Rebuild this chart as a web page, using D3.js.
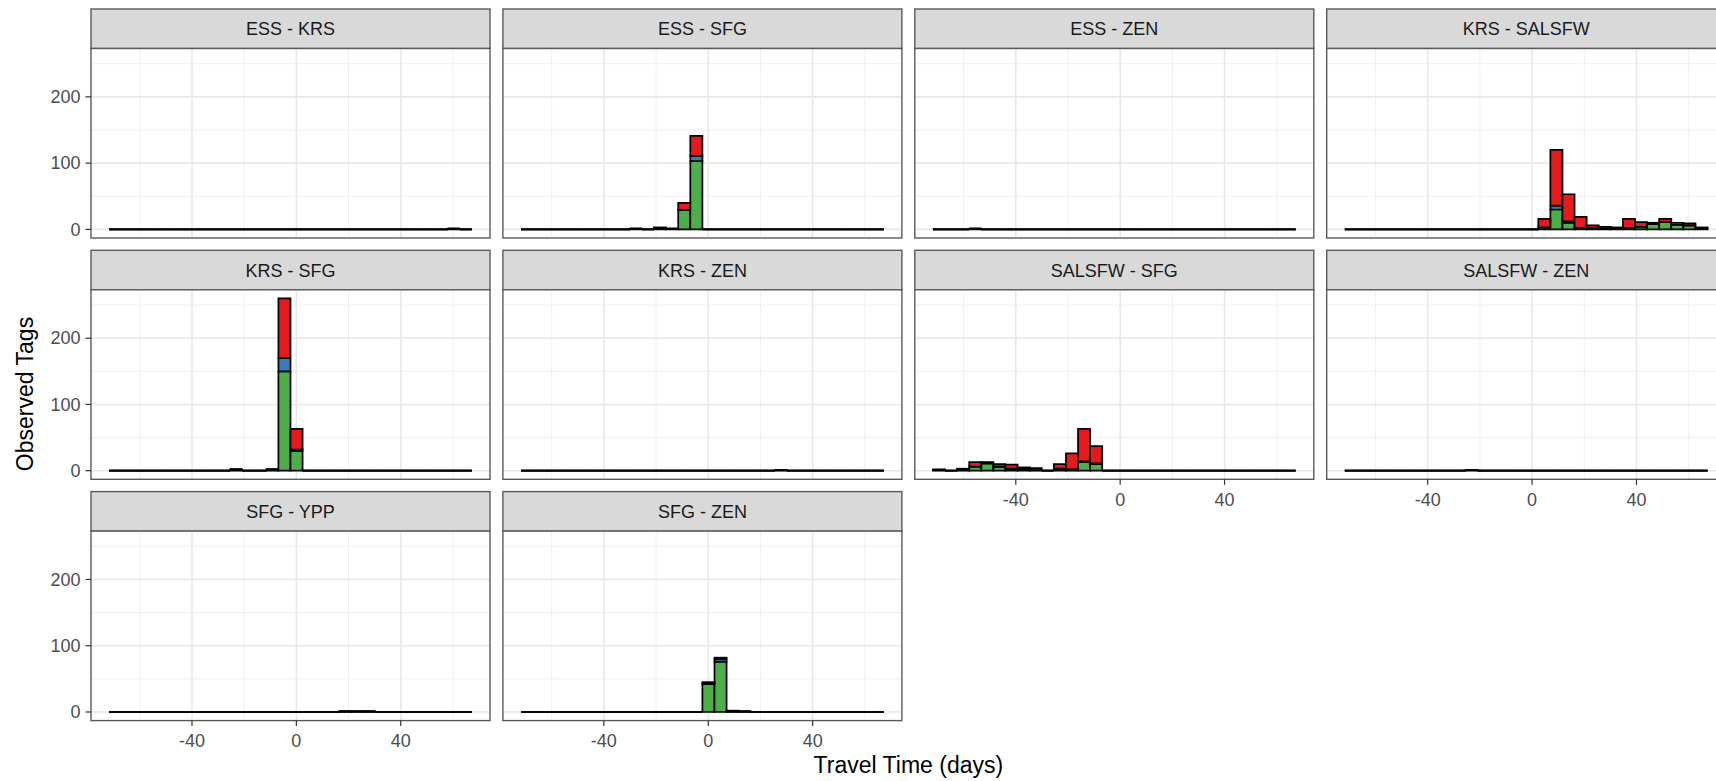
<!DOCTYPE html>
<html>
<head>
<meta charset="utf-8">
<script src="https://cdn.jsdelivr.net/npm/d3@7"></script>
<style>
  body { margin: 0; background: #fff; }
  text { font-family: "Liberation Sans", Arial, sans-serif; }
</style>
</head>
<body>
<div id="chart"></div>
<script>
const width = 1716;
const height = 781;

// facet panels, in facet_wrap order
const panels = [
  "ESS - KRS", "ESS - SFG", "ESS - ZEN", "KRS - SALSFW",
  "KRS - SFG", "KRS - ZEN", "SALSFW - SFG", "SALSFW - ZEN",
  "SFG - YPP", "SFG - ZEN"
];

// histogram bins (30 bins shared by every panel)
const nBins = 30;
const binStart = -71.75;
const binEnd = 67.25;

const xTicks = [-40, 0, 40];
const xMinor = [-60, -20, 20, 60];
const yTicks = [0, 100, 200];
const yMinor = [50, 150, 250];

const seriesKeys = ["green", "blue", "red"];
const seriesColors = { green: "#4DAF4A", blue: "#377EB8", red: "#E41A1C" };

// counts per panel per bin
const greenCounts = [
  [0,0,0,0,0,0,0,0,0,0, 0,0,0,0,0,0,0,0,0,0, 0,0,0,0,0,0,0,0,1,0],
  [0,0,0,0,0,0,0,0,0,1, 0,2,1,29,103,0,0,0,0,0, 0,0,0,0,0,0,0,0,0,0],
  [0,0,0,1,0,0,0,0,0,0, 0,0,0,0,0,0,0,0,0,0, 0,0,0,0,0,0,0,0,0,0],
  [0,0,0,0,0,0,0,0,0,0, 0,0,0,0,0,0,3,30,10,2, 2,1,2,2,4,8,11,7,6,1],
  [0,0,0,0,0,0,0,0,0,0, 2,0,0,2,150,30,0,0,0,0, 0,0,0,0,0,0,0,0,0,0],
  [0,0,0,0,0,0,0,0,0,0, 0,0,0,0,0,0,0,0,0,0, 0,1,0,0,0,0,0,0,0,0],
  [1,0,2,6,11,6,3,3,1,0, 3,2,13,10,0,0,0,0,0,0, 0,0,0,0,0,0,0,0,0,0],
  [0,0,0,0,0,0,0,0,0,0, 1,0,0,0,0,0,0,0,0,0, 0,0,0,0,0,0,0,0,0,0],
  [0,0,0,0,0,0,0,0,0,0, 0,0,0,0,0,0,0,0,0,1, 1,1,0,0,0,0,0,0,0,0],
  [0,0,0,0,0,0,0,0,0,0, 0,0,0,0,0,42,76,1,1,0, 0,0,0,0,0,0,0,0,0,0]
];

const blueCounts = [
  [0,0,0,0,0,0,0,0,0,0, 0,0,0,0,0,0,0,0,0,0, 0,0,0,0,0,0,0,0,0,0],
  [0,0,0,0,0,0,0,0,0,0, 0,0,0,0,8,0,0,0,0,0, 0,0,0,0,0,0,0,0,0,0],
  [0,0,0,0,0,0,0,0,0,0, 0,0,0,0,0,0,0,0,0,0, 0,0,0,0,0,0,0,0,0,0],
  [0,0,0,0,0,0,0,0,0,0, 0,0,0,0,0,0,0,6,2,0, 0,0,0,0,0,0,0,0,0,0],
  [0,0,0,0,0,0,0,0,0,0, 0,0,0,0,20,2,0,0,0,0, 0,0,0,0,0,0,0,0,0,0],
  [0,0,0,0,0,0,0,0,0,0, 0,0,0,0,0,0,0,0,0,0, 0,0,0,0,0,0,0,0,0,0],
  [0,0,0,0,0,0,0,0,0,0, 0,0,1,1,0,0,0,0,0,0, 0,0,0,0,0,0,0,0,0,0],
  [0,0,0,0,0,0,0,0,0,0, 0,0,0,0,0,0,0,0,0,0, 0,0,0,0,0,0,0,0,0,0],
  [0,0,0,0,0,0,0,0,0,0, 0,0,0,0,0,0,0,0,0,0, 0,0,0,0,0,0,0,0,0,0],
  [0,0,0,0,0,0,0,0,0,0, 0,0,0,0,0,1,4,0,0,0, 0,0,0,0,0,0,0,0,0,0]
];

const redCounts = [
  [0,0,0,0,0,0,0,0,0,0, 0,0,0,0,0,0,0,0,0,0, 0,0,0,0,0,0,0,0,0,0],
  [0,0,0,0,0,0,0,0,0,0, 0,1,0,11,30,0,0,0,0,0, 0,0,0,0,0,0,0,0,0,0],
  [0,0,0,0,0,0,0,0,0,0, 0,0,0,0,0,0,0,0,0,0, 0,0,0,0,0,0,0,0,0,0],
  [0,0,0,0,0,0,0,0,0,0, 0,0,0,0,0,0,13,84,41,17, 4,3,1,14,7,2,5,3,3,2],
  [0,0,0,0,0,0,0,0,0,0, 0,0,0,0,90,31,0,0,0,0, 0,0,0,0,0,0,0,0,0,0],
  [0,0,0,0,0,0,0,0,0,0, 0,0,0,0,0,0,0,0,0,0, 0,0,0,0,0,0,0,0,0,0],
  [1,0,1,7,2,4,6,2,3,0, 7,24,49,26,0,0,0,0,0,0, 0,0,0,0,0,0,0,0,0,0],
  [0,0,0,0,0,0,0,0,0,0, 0,0,0,0,0,0,0,0,0,0, 0,0,0,0,0,0,0,0,0,0],
  [0,0,0,0,0,0,0,0,0,0, 0,0,0,0,0,0,0,0,0,0, 0,0,0,0,0,0,0,0,0,0],
  [0,0,0,0,0,0,0,0,0,0, 0,0,0,0,0,2,2,1,0,0, 0,0,0,0,0,0,0,0,0,0]
];

// layout
const nCols = 4;
const panelLeft = 91;
const colPitch = 411.9;
const panelW = 399;
const rowTop = 9;
const rowPitch = 241.3;
const stripH = 39.5;
const plotH = 189.5;
const tickLen = 5.5;

const binW = (binEnd - binStart) / nBins;
const xPad = (binEnd - binStart) * 0.05;

const x = d3.scaleLinear()
  .domain([binStart - xPad, binEnd + xPad])
  .range([0, panelW]);

const yMax = d3.max(panels, (p, i) =>
  d3.max(d3.range(nBins), (b) => greenCounts[i][b] + blueCounts[i][b] + redCounts[i][b])
);

const y = d3.scaleLinear()
  .domain([-yMax * 0.05, yMax * 1.05])
  .range([plotH, 0]);

const stack = d3.stack().keys(seriesKeys);

const svg = d3.select("#chart")
  .append("svg")
  .attr("width", width)
  .attr("height", height)
  .style("display", "block");

svg.append("rect").attr("width", width).attr("height", height).attr("fill", "#fff");

panels.forEach((name, i) => {
  const col = i % nCols;
  const row = Math.floor(i / nCols);
  const px = panelLeft + col * colPitch;
  const py = rowTop + row * rowPitch;

  const g = svg.append("g").attr("transform", `translate(${px},${py})`);

  // strip
  g.append("rect")
    .attr("width", panelW)
    .attr("height", stripH)
    .attr("fill", "#D9D9D9")
    .attr("stroke", "#5a5a5a")
    .attr("stroke-width", 1.4);

  g.append("text")
    .attr("x", panelW / 2)
    .attr("y", stripH / 2 + 6.5)
    .attr("text-anchor", "middle")
    .style("font-size", "18px")
    .attr("fill", "#1A1A1A")
    .text(name);

  const plot = g.append("g").attr("transform", `translate(0,${stripH})`);

  plot.append("rect")
    .attr("width", panelW)
    .attr("height", plotH)
    .attr("fill", "#fff");

  // grid
  plot.selectAll(".xminor")
    .data(xMinor)
    .join("line")
    .attr("x1", (d) => x(d)).attr("x2", (d) => x(d))
    .attr("y1", 0).attr("y2", plotH)
    .attr("stroke", "#F0F0F0").attr("stroke-width", 1);

  plot.selectAll(".yminor")
    .data(yMinor)
    .join("line")
    .attr("x1", 0).attr("x2", panelW)
    .attr("y1", (d) => y(d)).attr("y2", (d) => y(d))
    .attr("stroke", "#F0F0F0").attr("stroke-width", 1);

  plot.selectAll(".xmajor")
    .data(xTicks)
    .join("line")
    .attr("x1", (d) => x(d)).attr("x2", (d) => x(d))
    .attr("y1", 0).attr("y2", plotH)
    .attr("stroke", "#E8E8E8").attr("stroke-width", 1.6);

  plot.selectAll(".ymajor")
    .data(yTicks)
    .join("line")
    .attr("x1", 0).attr("x2", panelW)
    .attr("y1", (d) => y(d)).attr("y2", (d) => y(d))
    .attr("stroke", "#E8E8E8").attr("stroke-width", 1.6);

  // stacked histogram bars
  const rows = d3.range(nBins).map((b) => ({
    bin: b,
    green: greenCounts[i][b],
    blue: blueCounts[i][b],
    red: redCounts[i][b]
  }));

  const layers = stack(rows);

  layers.forEach((layer) => {
    plot.append("g")
      .selectAll("path")
      .data(layer)
      .join("path")
      .attr("d", (d) => {
        const b = d.data.bin;
        const x0 = x(binStart + b * binW);
        const x1 = x(binStart + (b + 1) * binW);
        const y0 = y(d[0]);
        const y1 = y(d[1]);
        return `M${x0},${y0}H${x1}V${y1}H${x0}Z`;
      })
      .attr("fill", seriesColors[layer.key])
      .attr("stroke", "#000")
      .attr("stroke-width", 1.7);
  });

  // panel border
  plot.append("rect")
    .attr("width", panelW)
    .attr("height", plotH)
    .attr("fill", "none")
    .attr("stroke", "#5a5a5a")
    .attr("stroke-width", 1.4);

  // y axis on first column
  if (col === 0) {
    const ya = plot.append("g");
    yTicks.forEach((t) => {
      ya.append("line")
        .attr("x1", -tickLen).attr("x2", 0)
        .attr("y1", y(t)).attr("y2", y(t))
        .attr("stroke", "#333").attr("stroke-width", 1.2);
      ya.append("text")
        .attr("x", -tickLen - 5)
        .attr("y", y(t) + 6.3)
        .attr("text-anchor", "end")
        .style("font-size", "18px")
        .attr("fill", "#4D4D4D")
        .text(t);
    });
  }

  // x axis on the lowest panel of each column
  const below = i + nCols;
  if (below >= panels.length) {
    const xa = plot.append("g").attr("transform", `translate(0,${plotH})`);
    xTicks.forEach((t) => {
      xa.append("line")
        .attr("x1", x(t)).attr("x2", x(t))
        .attr("y1", 0).attr("y2", tickLen)
        .attr("stroke", "#333").attr("stroke-width", 1.2);
      xa.append("text")
        .attr("x", x(t))
        .attr("y", 26.5)
        .attr("text-anchor", "middle")
        .style("font-size", "18px")
        .attr("fill", "#4D4D4D")
        .text(t);
    });
  }
});

// axis titles
svg.append("text")
  .attr("x", panelLeft + (nCols * colPitch - (colPitch - panelW)) / 2)
  .attr("y", 773)
  .attr("text-anchor", "middle")
  .style("font-size", "23px")
  .attr("fill", "#000")
  .text("Travel Time (days)");

svg.append("text")
  .attr("transform", "translate(33,394) rotate(-90)")
  .attr("text-anchor", "middle")
  .style("font-size", "23px")
  .attr("fill", "#000")
  .text("Observed Tags");
</script>
</body>
</html>
